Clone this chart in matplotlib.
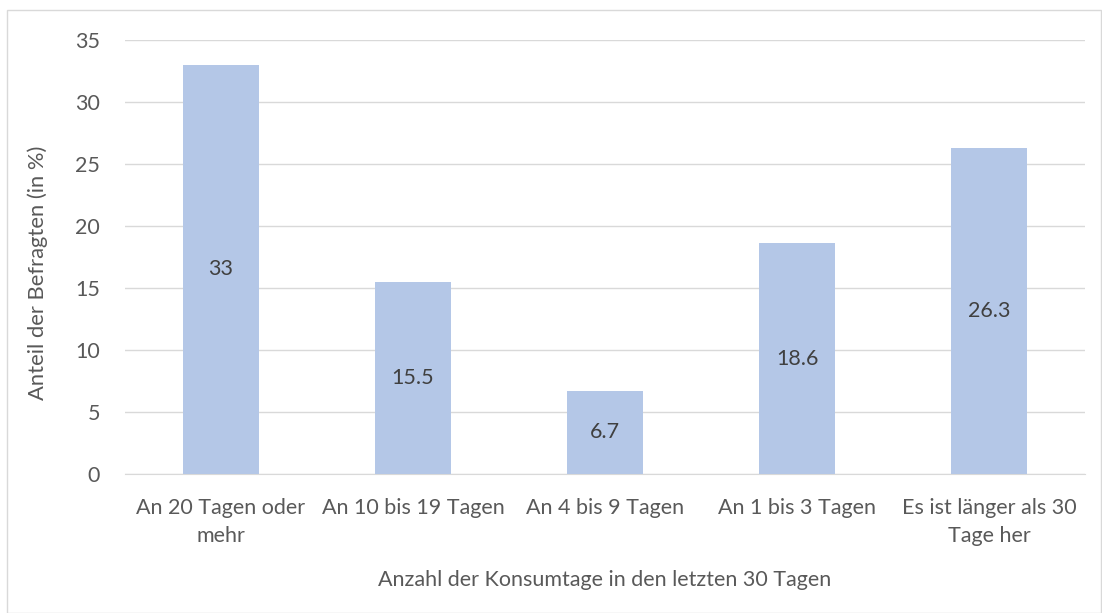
import matplotlib
matplotlib.use("Agg")
import matplotlib.pyplot as plt
from matplotlib.patches import Rectangle

categories = ["An 20 Tagen oder\nmehr", "An 10 bis 19 Tagen", "An 4 bis 9 Tagen",
              "An 1 bis 3 Tagen", "Es ist länger als 30\nTage her"]
values = [33, 15.5, 6.7, 18.6, 26.3]
value_labels = ["33", "15.5", "6.7", "18.6", "26.3"]
yticks = [0, 5, 10, 15, 20, 25, 30, 35]

plt.rcParams['font.family'] = ['Lato', 'DejaVu Sans']
text_color = "#595959"
fs = 15.5

W, H = 1102, 613
fig = plt.figure(figsize=(W/100, H/100), dpi=100)
fig.patches.append(Rectangle((7/W, 0), (1101-7)/W, (H-10)/H, transform=fig.transFigure,
                             fill=False, edgecolor="#d9d9d9", linewidth=1.0))

ax = fig.add_axes([125/W, (H-474)/H, (1085-125)/W, (474-40)/H])
x = list(range(len(categories)))
bars = ax.bar(x, values, width=0.395, color="#B4C7E7", zorder=2)
for xi, v, lab in zip(x, values, value_labels):
    ax.text(xi, v/2, lab, ha="center", va="center", fontsize=fs, color="#404040", zorder=3)

ax.set_xlim(-0.5, len(categories)-0.5)
ax.set_ylim(0, 35)
ax.set_yticks(yticks)
ax.set_yticklabels([str(t) for t in yticks], fontsize=fs, color=text_color)
ax.set_xticks(x)
ax.set_xticklabels(categories, fontsize=fs, color=text_color, linespacing=1.5)
ax.tick_params(axis="both", length=0)
ax.tick_params(axis="y", pad=18)
ax.tick_params(axis="x", pad=17)
ax.grid(axis="y", color="#d9d9d9", linewidth=1.0, zorder=0)
for s in ["top", "right", "left"]:
    ax.spines[s].set_visible(False)
ax.spines["bottom"].set_color("#d9d9d9")
ax.spines["bottom"].set_zorder(1)

fig.text(38/W, 1-273/H, "Anteil der Befragten (in %)", rotation=90, ha="center", va="center",
         fontsize=15.8, color=text_color)
fig.text(605/W, 1-580/H, "Anzahl der Konsumtage in den letzten 30 Tagen", ha="center", va="center",
         fontsize=fs, color=text_color)

fig.savefig("out.png", dpi=100)
